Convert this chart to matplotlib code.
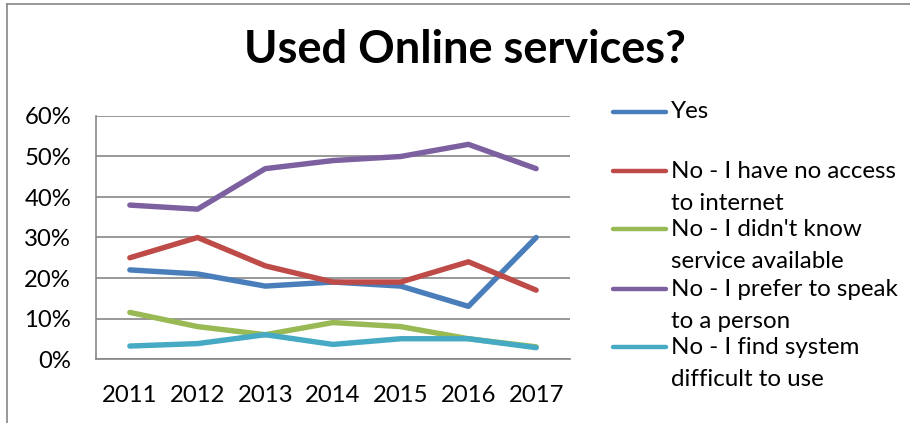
import matplotlib
matplotlib.use("Agg")
import matplotlib.pyplot as plt
from matplotlib.lines import Line2D
from matplotlib.ticker import FuncFormatter

years = ["2011", "2012", "2013", "2014", "2015", "2016", "2017"]
yes = [22, 21, 18, 19, 18, 13, 30]
no_access = [25, 30, 23, 19, 19, 24, 17]
no_know = [11.5, 8, 6, 9, 8, 5, 3]
no_prefer = [38, 37, 47, 49, 50, 53, 47]
no_difficult = [3.2, 3.8, 6, 3.6, 5, 5, 2.8]

series_labels = ["Yes", "No - I have no access\nto internet", "No - I didn't know\nservice available",
                 "No - I prefer to speak\nto a person", "No - I find system\ndifficult to use"]
series_values = [yes, no_access, no_know, no_prefer, no_difficult]
colors = ["#4A7EBB", "#BE4B48", "#98B954", "#7D60A0", "#46AAC5"]

W, H = 910, 423
plt.rcParams['font.family'] = ['Lato', 'DejaVu Sans']
fig = plt.figure(figsize=(W / 100, H / 100), dpi=100)
fig.patch.set_facecolor("white")

def fx(px):
    return px / W

def fy(py):
    return 1 - py / H

ax = fig.add_axes([fx(96), fy(359), fx(570) - fx(96), fy(116) - fy(359)])
x = list(range(len(years)))
for vals, c in zip(series_values, colors):
    ax.plot(x, vals, color=c, lw=3.9, solid_capstyle="round", solid_joinstyle="round", zorder=3)

ax.set_xlim(-0.5, len(years) - 0.5)
ax.set_ylim(0, 60)
ax.set_yticks(range(0, 61, 10))
ax.yaxis.set_major_formatter(FuncFormatter(lambda v, p: f"{int(v)}%"))
ax.set_xticks(x)
ax.set_xticklabels(years)
ax.grid(axis="y", color="#868686", lw=1.2, zorder=1)
for s in ["top", "right"]:
    ax.spines[s].set_visible(False)
for s in ["left", "bottom"]:
    ax.spines[s].set_color("#868686")
    ax.spines[s].set_linewidth(1.2)
ax.tick_params(axis="both", length=0, labelsize=17.2, colors="black")
ax.tick_params(axis="y", pad=18)
ax.tick_params(axis="x", pad=19)

fig.text(fx(465), fy(63), "Used Online services?", ha="center", va="baseline",
         fontsize=32.5, fontweight="bold", color="black")

# legend (manual, Excel-like)
entry_y = [112, 171, 229, 289, 347]
for lab, c, ey in zip(series_labels, colors, entry_y):
    fig.add_artist(Line2D([fx(613), fx(666)], [fy(ey), fy(ey)], color=c, lw=3.2,
                          solid_capstyle="round", transform=fig.transFigure))
    lines = lab.split("\n")
    for i, ln in enumerate(lines):
        fig.text(fx(671), fy(ey + i * 32), ln, ha="left", va="center", fontsize=17.4, color="black")

# outer chart frame (partially cropped)
fig.add_artist(Line2D([fx(7), fx(910)], [fy(4), fy(4)], color="#868686", lw=1.2, transform=fig.transFigure))
fig.add_artist(Line2D([fx(7), fx(7)], [fy(4), fy(423)], color="#868686", lw=1.2, transform=fig.transFigure))

fig.savefig("out.png", dpi=100, facecolor="white")
